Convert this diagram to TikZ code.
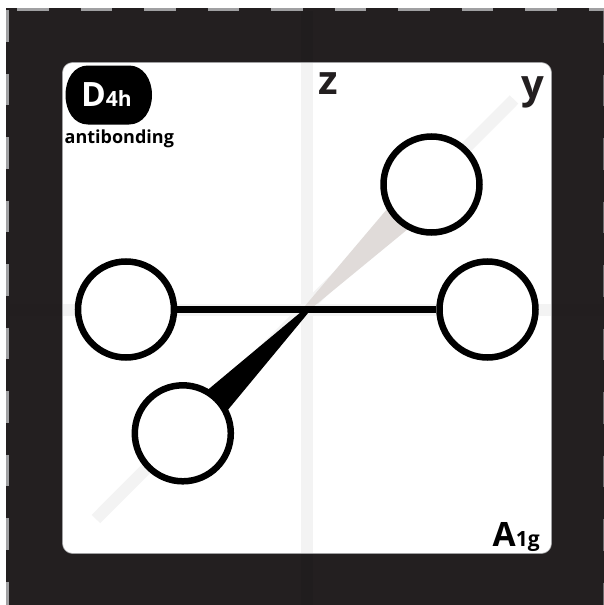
\documentclass[tikz,border=0pt]{standalone}
\usepackage{xcolor}
\usepackage{fontspec}
\setsansfont{Open Sans}
\usetikzlibrary{calc}
\definecolor{framedark}{RGB}{35,31,32}
\definecolor{seamdark}{RGB}{32,29,30}
\definecolor{axispale}{RGB}{243,243,243}
\definecolor{wedgegrey}{RGB}{224,219,217}
\definecolor{tickgrey}{RGB}{160,160,162}
\newcommand{\symlabel}[2]{{\fontsize{33.5}{36}\selectfont #1}{\fontsize{21}{22}\selectfont #2}}

\begin{document}
\begin{tikzpicture}[x=1pt, y=-1pt,
  every node/.style={font=\sffamily\bfseries, inner sep=0pt, align=center},
  axisband/.style={line width=12pt, draw=axispale},
  seamband/.style={line width=12pt, draw=seamdark},
  tickrow/.style={line width=2.5pt, draw=tickgrey, dash pattern=on 31.5pt off 32pt},
  lobe/.style={circle, draw=black, fill=white, line width=6.5pt, minimum size=96pt},
  bond/.style={line width=7.5pt, draw=black},
  axislabel/.style={font=\sffamily\bfseries\fontsize{40}{44}\selectfont, text=framedark, anchor=base west}]
  \useasboundingbox (0,0) rectangle (604,605);
  \coordinate (O) at (307,309.5);

  % Dark frame with its dashed edges
  \fill[framedark] (6,8) rectangle (604,605);
  \draw[tickrow] (17,9.5) -- (604,9.5);
  \draw[tickrow] (7.5,10) -- (7.5,605);
  \draw[tickrow, line width=1pt, draw=tickgrey!60!framedark] (603.5,11) -- (603.5,605);
  \draw[seamband] (307,11) -- (307,605);
  \draw[seamband, draw=seamdark!30!framedark] (9,309.5) -- (603,309.5);

  % White panel
  \fill[white, draw=tickgrey, line width=0.6pt, rounded corners=10pt] (62.5,62.5) rectangle (551.5,553.5);

  % Axes
  \draw[axisband] (307,63) -- (307,553);
  \draw[axisband] (63,309.5) -- (551,309.5);
  \draw[axisband] (96,519) -- (514,99.5);

  % Wedges towards the back and front lobes
  \fill[wedgegrey] (302,309.5) -- (393,202) -- (414,224) -- (310,309.5) -- cycle;
  \fill[black] (304,309.5) -- (198,398) -- (222,417) -- (311,309.5) -- cycle;

  % Lobes
  \node[lobe] (lobeL) at (126,309.5) {};
  \node[lobe] (lobeR) at (487.5,309.5) {};
  \node[lobe] (lobeB) at (431.5,184.5) {};
  \node[lobe] (lobeF) at (182.8,433.3) {};
  \draw[bond] (lobeL) -- (lobeR);

  % Point group badge
  \fill[black] (88,65.5) -- (129,65.5) .. controls (143,65.5) and (152,79) .. (152,95)
    .. controls (152,111) and (143,124.5) .. (129,124.5) -- (88,124.5)
    .. controls (74,124.5) and (65.5,111) .. (65.5,95)
    .. controls (65.5,79) and (74,65.5) .. (88,65.5) -- cycle;
  \node[text=white, anchor=base west] (badge) at (81,106) {\symlabel{D}{4h}};

  % Labels
  \node[anchor=base west, font=\sffamily\bfseries\fontsize{18}{20}\selectfont] (bonding) at (64.5,143) {antibonding};
  \node[axislabel] (zlabel) at (318,94) {z};
  \node[axislabel] (ylabel) at (521,98) {y};
  \node[anchor=base west] (irrep) at (492.5,546.7) {\symlabel{A}{1g}};
\end{tikzpicture}
\end{document}
